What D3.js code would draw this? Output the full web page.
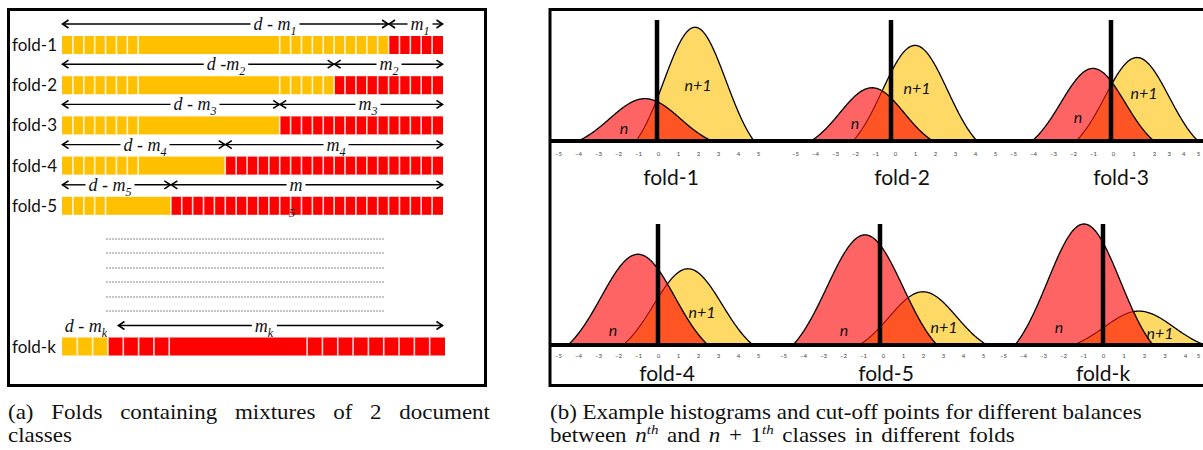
<!DOCTYPE html>
<html><head><meta charset="utf-8">
<script src="https://cdn.jsdelivr.net/npm/d3@7"></script>
<style>body{margin:0;background:#fff}svg{display:block}</style>
</head><body><svg id="c" width="1203" height="450"></svg>
<script>
// ---------- data: panel (a) ----------
const foldNames   = ["fold-1","fold-2","fold-3","fold-4","fold-5","fold-k"];
const foldSubs    = ["1","2","3","4","5","k"];
const docsTotal   = [35,35,35,35,35,25];   // d (cells per fold)
const docsClassN  = [30,25,20,15,10,3];    // d - m_i (class n, yellow)
const mergedStart = [7,7,7,7,4,7];         // cells drawn without separators
const mergedEnd   = [20,20,20,15,10,16];
// ---------- data: panel (b) ----------
const panelNames  = ["fold-1","fold-2","fold-3","fold-4","fold-5","fold-k"];
const axisTicks   = [-5,-4,-3,-2,-1,0,1,2,3,4,5];
const nCenter     = [-0.65,-1.15,-1.0,-1.0,-0.9,-0.95];
const nHalfWidth  = [3.35,3.05,3.05,3.5,3.6,3.45];
const nPeak       = [0.35,0.44,0.60,0.75,0.91,1.0];
const n1Center    = [1.85,1.0,1.2,1.5,2.0,1.8];
const n1HalfWidth = [2.95,3.1,3.05,3.25,3.2,3.3];
const n1Peak      = [0.94,0.79,0.69,0.63,0.44,0.28];
const cutOff      = [-0.05,-0.2,-0.1,0,-0.15,0];

const svg = d3.select("#c");
const SERIF = "'Liberation Serif','Times New Roman',serif";
const SANS = "Lato,'Open Sans',sans-serif";

// ================= panel (a) =================
const A = svg.append("g");
A.append("rect").attr("x",8.5).attr("y",9.5).attr("width",477).attr("height",376)
  .attr("fill","none").attr("stroke","#000").attr("stroke-width",3);

const foldSlot = [0,1,2,3,4,7.5];
const rowY = d3.scaleLinear().domain([0,1]).range([36,76.2]);
const dmLabelX = [275,226,195,145,110,86];
const mLabelX  = [420,389,368,336,296,264];

function mathLabel(parent, cx, baseline, main, sub){
  const t = parent.append("text").attr("x",cx).attr("y",baseline)
    .attr("text-anchor","middle").attr("font-family",SERIF)
    .attr("font-style","italic").attr("font-size",18).attr("fill","#111");
  t.append("tspan").text(main);
  if (sub) t.append("tspan").attr("font-size",12).attr("dy",5).text(sub);
  return t;
}
function head(parent, x, y, dir){
  parent.append("path").attr("d",`M${x-dir*6},${y-4}L${x},${y}L${x-dir*6},${y+4}`)
    .attr("fill","none").attr("stroke","#000").attr("stroke-width",1.6);
}
function dimArrow(parent, x0, x1, y, label){
  const bb = label.node().getBBox();
  const gl = bb.x - 3, gr = bb.x + bb.width + 3;
  const segs = [];
  if (gl > x0 + 1) segs.push([x0, gl]);
  if (gr < x1 - 1) segs.push([gr, x1]);
  segs.forEach(s => parent.append("line").attr("x1",s[0]).attr("x2",s[1])
    .attr("y1",y).attr("y2",y).attr("stroke","#000").attr("stroke-width",1.4));
  head(parent, x0+0.5, y, -1);
  head(parent, x1-0.5, y, 1);
}

foldNames.forEach((name,i)=>{
  const x = d3.scaleLinear().domain([0,docsTotal[i]]).range([62, i===5?445:443]);
  const top = rowY(foldSlot[i]), h = 18;
  A.append("rect").attr("x",x(0)).attr("y",top).attr("width",x(docsClassN[i])-x(0)).attr("height",h).attr("fill","#FFC000");
  A.append("rect").attr("x",x(docsClassN[i])).attr("y",top).attr("width",x(docsTotal[i])-x(docsClassN[i])).attr("height",h).attr("fill","#FF0000");
  d3.range(1,docsTotal[i]).filter(k=>!(k>mergedStart[i] && k<mergedEnd[i])).forEach(k=>{
    A.append("line").attr("x1",x(k)).attr("x2",x(k)).attr("y1",top).attr("y2",top+h)
      .attr("stroke","#fff").attr("stroke-opacity",0.85).attr("stroke-width",1.6);
  });
  A.append("text").attr("x",12).attr("y",top+15).attr("font-family",SANS)
    .attr("font-size",17).attr("fill","#111").text(name);

  const ay = top - 12;
  const dm = mathLabel(A, dmLabelX[i], ay+6, i===1 ? "d -m" : "d - m", foldSubs[i]);
  if (i !== 5) dimArrow(A, x(0), x(docsClassN[i]), ay, dm);
  const ml = mathLabel(A, mLabelX[i], ay+6, "m", i===4 ? null : foldSubs[i]);
  dimArrow(A, x(docsClassN[i]) + (i===5?10:0), 443, ay, ml);
  if (i === 4) {
    A.append("text").attr("x",292).attr("y",217).attr("text-anchor","middle")
      .attr("font-family",SERIF).attr("font-style","italic").attr("font-size",12)
      .attr("fill","#111").text(foldSubs[i]);
  }
});
// dotted "..." rows between fold-5 and fold-k
[239,253,268,282,297,311].forEach(y=>{
  A.append("line").attr("x1",106).attr("x2",385).attr("y1",y).attr("y2",y)
    .attr("stroke","#8a8a8a").attr("stroke-width",1.2).attr("stroke-dasharray","2,1");
});

// ================= panel (b) =================
const B = svg.append("g");
const rowBase = [141,141,141,345,345,345];
const zeroX = [658,895,1113,658,883,1103];
const cutTop = [20,20,20,224,224,224];
const foldLabelDx = [13,7,8,9,3,0];
const nLabel = [[-1.7,0.115],[-2.0,0.15],[-1.75,0.2],[-2.25,0.125],[-1.95,0.125],[-2.2,0.157]];
const n1Label = [[2.0,0.47],[1.1,0.44],[1.55,0.40],[2.2,0.28],[3.05,0.157],[2.85,0.1]];

function bell(v, c, w, p){
  const s = w/1.9, e = Math.exp(-(w*w)/(2*s*s));
  const r = (Math.exp(-((v-c)*(v-c))/(2*s*s)) - e)/(1-e);
  return r > 0 ? p*r : 0;
}

panelNames.forEach((name,i)=>{
  const xs = d3.scaleLinear().domain([-5,5]).range([zeroX[i]-100, zeroX[i]+100]);
  const ys = d3.scaleLinear().domain([0,1]).range([rowBase[i], rowBase[i]-121]);
  // tick labels of the right-most panels are squeezed toward the page edge in the source
  let tickScale = xs;
  if (i === 2) tickScale = d3.scaleLinear().domain([-5,0,2,5]).range([1013,1113,1154,1198]);
  if (i === 5) tickScale = d3.scaleLinear().domain([-5,0,4,5]).range([1003,1103,1185,1198]);
  const fN  = v => bell(v, nCenter[i], nHalfWidth[i], nPeak[i]);
  const fN1 = v => bell(v, n1Center[i], n1HalfWidth[i], n1Peak[i]);
  const nPts  = d3.range(nCenter[i]-nHalfWidth[i], nCenter[i]+nHalfWidth[i]+1e-9, 0.04);
  const n1Pts = d3.range(n1Center[i]-n1HalfWidth[i], n1Center[i]+n1HalfWidth[i]+1e-9, 0.04);
  const lo = Math.max(nCenter[i]-nHalfWidth[i], n1Center[i]-n1HalfWidth[i]);
  const hi = Math.min(nCenter[i]+nHalfWidth[i], n1Center[i]+n1HalfWidth[i]);
  const ovPts = d3.range(lo, hi+1e-9, 0.04);

  const areaOf = f => d3.area().x(v=>xs(v)).y0(ys(0)).y1(v=>ys(f(v)));
  B.append("path").attr("d",areaOf(fN)(nPts)).attr("fill","#FF6464");
  B.append("path").attr("d",areaOf(fN1)(n1Pts)).attr("fill","#FFD966");
  B.append("path").attr("d",areaOf(v=>Math.min(fN(v),fN1(v)))(ovPts)).attr("fill","#FF5524");

  B.append("path").attr("d",d3.line().x(v=>xs(v)).y(v=>ys(fN(v)))(nPts))
    .attr("fill","none").attr("stroke","#000").attr("stroke-width",1.3);
  B.append("path").attr("d",d3.line().x(v=>xs(v)).y(v=>ys(fN1(v))).defined(v=>fN1(v)>=fN(v)-0.003)(n1Pts))
    .attr("fill","none").attr("stroke","#000").attr("stroke-width",1.3);
  B.append("path").attr("d",d3.line().x(v=>xs(v)).y(v=>ys(fN1(v))).defined(v=>fN1(v)<=fN(v)+0.003)(n1Pts))
    .attr("fill","none").attr("stroke","#8B0A0A").attr("stroke-width",1.1);

  B.append("line").attr("x1",xs(cutOff[i])).attr("x2",xs(cutOff[i]))
    .attr("y1",cutTop[i]).attr("y2",rowBase[i]).attr("stroke","#000").attr("stroke-width",4.5);

  B.append("text").attr("x",xs(nLabel[i][0])).attr("y",ys(nLabel[i][1]))
    .attr("text-anchor","middle").attr("dominant-baseline","central")
    .attr("font-family",SANS).attr("font-style","italic").attr("font-size",16).attr("fill","#111").text("n");
  B.append("text").attr("x",xs(n1Label[i][0])).attr("y",ys(n1Label[i][1]))
    .attr("text-anchor","middle").attr("dominant-baseline","central")
    .attr("font-family",SANS).attr("font-style","italic").attr("font-size",16).attr("fill","#111").text("n+1");

  const ax = B.append("g").attr("transform",`translate(0,${rowBase[i]})`)
    .call(d3.axisBottom(tickScale).tickValues(axisTicks).tickSize(0)
      .tickPadding(rowBase[i]===141 ? 11 : 9).tickFormat(d3.format("d")));
  ax.select(".domain").remove();
  ax.selectAll("text").attr("font-family",SANS).attr("font-size",6).attr("fill","#444");

  B.append("text").attr("x",zeroX[i]+foldLabelDx[i]).attr("y",rowBase[i]===141?185:381)
    .attr("text-anchor","middle").attr("font-family",SANS).attr("font-size",21)
    .attr("fill","#111").text(name);
});
[141,345].forEach(y=>{
  B.append("line").attr("x1",550).attr("x2",1203).attr("y1",y).attr("y2",y)
    .attr("stroke","#000").attr("stroke-width",4);
});
B.append("rect").attr("x",550).attr("y",9.5).attr("width",700).attr("height",376)
  .attr("fill","none").attr("stroke","#000").attr("stroke-width",3);

// ================= captions =================
const SX = 1.15;
function caption(x, y){
  return svg.append("text").attr("transform",`translate(${x},${y}) scale(${SX},1)`)
    .attr("font-family",SERIF).attr("font-size",20).attr("fill","#111");
}
const capA = caption(8,419).text("(a) Folds containing mixtures of 2 document");
const natural = capA.node().getComputedTextLength();
capA.attr("word-spacing", (482/SX - natural)/6);
caption(8,442).text("classes");
caption(550,419).text("(b) Example histograms and cut-off points for different balances");
const capB2 = caption(550,442).attr("word-spacing",2.5);
capB2.append("tspan").text("between ");
capB2.append("tspan").attr("font-style","italic").text("n");
capB2.append("tspan").attr("font-style","italic").attr("font-size",13).attr("dy",-8).text("th");
capB2.append("tspan").attr("dy",8).text(" and ");
capB2.append("tspan").attr("font-style","italic").text("n");
capB2.append("tspan").text(" + 1");
capB2.append("tspan").attr("font-style","italic").attr("font-size",13).attr("dy",-8).text("th");
capB2.append("tspan").attr("dy",8).text(" classes in different folds");
</script></body></html>
